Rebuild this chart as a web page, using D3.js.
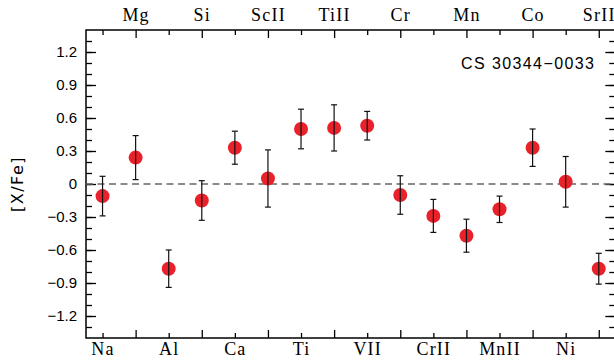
<html>
  <head>
    <meta charset="utf-8">
    <script src="https://cdnjs.cloudflare.com/ajax/libs/d3/7.8.5/d3.min.js"></script>
    <style>
    body { margin: 0; background: white; }
    svg { display: block; }
    .axis path { display: none; }
    .axis line { stroke: black; stroke-width: 1.3; }
    .elem text { font-family: "Liberation Serif", serif; font-size: 18px; letter-spacing: 1.2px; fill: black; }
    .yaxis text { font-family: "Liberation Sans", sans-serif; font-size: 15px; fill: black; }
    </style>
  </head>
  <body>
    <svg id="chart" width="614" height="361"></svg>
    <script>
    // abundances for CS 30344-0033
    var elements = ['Na', 'Mg', 'Al', 'Si', 'Ca', 'ScII', 'Ti', 'TiII',
                    'VII', 'Cr', 'CrII', 'Mn', 'MnII', 'Co', 'Ni', 'SrII'];
    var xfe = [-0.11, 0.24, -0.77, -0.15, 0.33, 0.05, 0.50, 0.51,
               0.53, -0.10, -0.29, -0.47, -0.23, 0.33, 0.02, -0.77];
    var errs = [0.18, 0.20, 0.17, 0.18, 0.15, 0.26, 0.18, 0.21,
                0.13, 0.175, 0.15, 0.15, 0.12, 0.17, 0.23, 0.14];
    var yMajor = [-1.2, -0.9, -0.6, -0.3, 0, 0.3, 0.6, 0.9, 1.2];
    var yMinor = d3.range(-13, 14).map(function(d) { return d / 10; });
    var starName = 'CS 30344\u22120033';

    var svg = d3.select('#chart');
    var pLeft = 86, pRight = 615.3, pTop = 30, pBottom = 338;

    var x = d3.scaleLinear().domain([-0.5, elements.length - 0.5]).range([pLeft, pRight]);
    var y = d3.scaleLinear().domain([-1.4, 1.4]).range([pBottom, pTop]);

    var idx = d3.range(elements.length);
    var even = idx.filter(function(i) { return i % 2 === 0; });
    var odd = idx.filter(function(i) { return i % 2 === 1; });

    function fmtY(d) {
      if (d === 0) return '0';
      return d3.format('.1f')(d).replace('-', '\u2212');
    }

    // left / right ticks
    svg.append('g').attr('class', 'axis').attr('transform', 'translate(' + pLeft + ',0)')
      .call(d3.axisLeft(y).tickValues(yMinor).tickSize(-6).tickFormat(''));
    svg.append('g').attr('class', 'axis yaxis').attr('transform', 'translate(' + pLeft + ',0)')
      .call(d3.axisLeft(y).tickValues(yMajor).tickSize(-10).tickPadding(9).tickFormat(fmtY));
    svg.append('g').attr('class', 'axis').attr('transform', 'translate(' + pRight + ',0)')
      .call(d3.axisRight(y).tickValues(yMinor).tickSize(-6).tickFormat(''));
    svg.append('g').attr('class', 'axis').attr('transform', 'translate(' + pRight + ',0)')
      .call(d3.axisRight(y).tickValues(yMajor).tickSize(-10).tickFormat(''));

    // bottom: even elements, short ticks; top: odd elements, tall ticks
    svg.append('g').attr('class', 'axis elem').attr('transform', 'translate(0,' + pBottom + ')')
      .call(d3.axisBottom(x).tickValues(even).tickSize(-5).tickPadding(4)
        .tickFormat(function(i) { return elements[i]; }));
    svg.append('g').attr('class', 'axis').attr('transform', 'translate(0,' + pBottom + ')')
      .call(d3.axisBottom(x).tickValues(odd).tickSize(-8).tickFormat(''));
    svg.append('g').attr('class', 'axis elem').attr('transform', 'translate(0,' + pTop + ')')
      .call(d3.axisTop(x).tickValues(odd).tickSize(-8).tickPadding(9)
        .tickFormat(function(i) { return elements[i]; }));
    svg.append('g').attr('class', 'axis').attr('transform', 'translate(0,' + pTop + ')')
      .call(d3.axisTop(x).tickValues(even).tickSize(-5).tickFormat(''));

    // frame
    svg.append('rect')
      .attr('x', pLeft).attr('y', pTop)
      .attr('width', pRight - pLeft).attr('height', pBottom - pTop)
      .attr('fill', 'none').attr('stroke', 'black').attr('stroke-width', 1.5);

    // zero line
    svg.append('line')
      .attr('x1', pLeft).attr('x2', pRight)
      .attr('y1', y(0)).attr('y2', y(0))
      .attr('stroke', '#666').attr('stroke-width', 1.6)
      .attr('stroke-dasharray', '7,4.5');

    // points with error bars
    var pts = svg.append('g').selectAll('g')
      .data(idx)
      .enter()
      .append('g');

    pts.append('circle')
      .attr('cx', function(i) { return x(i); })
      .attr('cy', function(i) { return y(xfe[i]); })
      .attr('r', 7)
      .attr('fill', '#e8212a');

    pts.append('line')
      .attr('x1', function(i) { return x(i); })
      .attr('x2', function(i) { return x(i); })
      .attr('y1', function(i) { return y(xfe[i] + errs[i]); })
      .attr('y2', function(i) { return y(xfe[i] - errs[i]); })
      .attr('stroke', '#111').attr('stroke-width', 1.2);

    [1, -1].forEach(function(s) {
      pts.append('line')
        .attr('x1', function(i) { return x(i) - 3; })
        .attr('x2', function(i) { return x(i) + 3; })
        .attr('y1', function(i) { return y(xfe[i] + s * errs[i]); })
        .attr('y2', function(i) { return y(xfe[i] + s * errs[i]); })
        .attr('stroke', '#111').attr('stroke-width', 1.2);
    });

    // labels
    svg.append('text')
      .attr('transform', 'translate(23,' + y(0) + ') rotate(-90)')
      .attr('text-anchor', 'middle')
      .style('font-family', '"DejaVu Sans", sans-serif')
      .style('font-size', '16px')
      .style('letter-spacing', '1.5px')
      .text('[X/Fe]');

    svg.append('text')
      .attr('x', 461).attr('y', 69)
      .attr('textLength', 133).attr('lengthAdjust', 'spacing')
      .style('font-family', '"Liberation Sans", sans-serif')
      .style('font-size', '16px')
      .text(starName);
    </script>
  </body>
</html>
